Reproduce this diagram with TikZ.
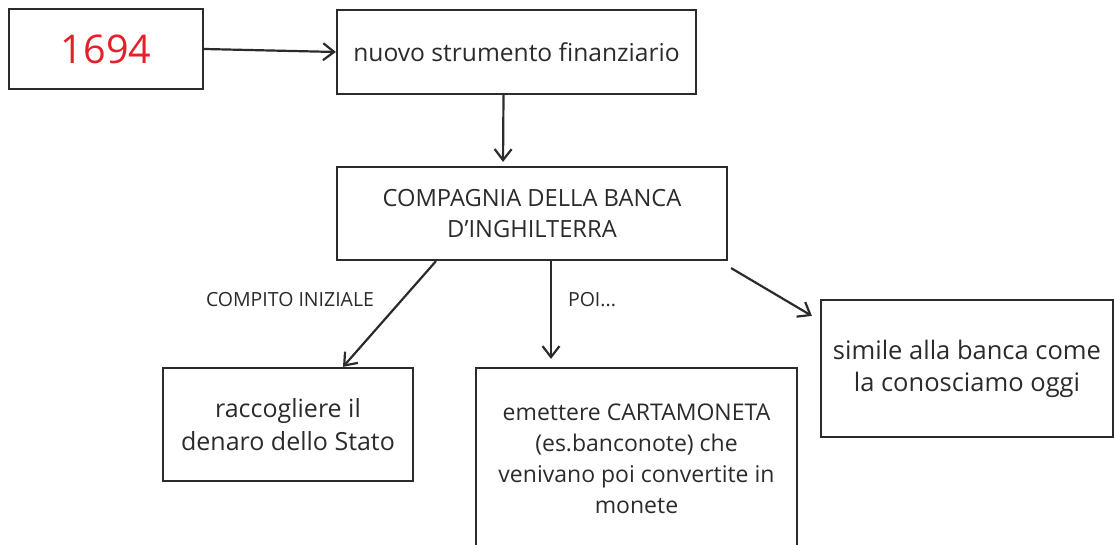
\documentclass[tikz,border=0pt]{standalone}
\usepackage{fontspec}
\setmainfont{Open Sans}[Ligatures=NoCommon]
\usetikzlibrary{arrows.meta}

\definecolor{inkgray}{HTML}{2B2B2B}
\definecolor{yearred}{HTML}{E5202A}

\tikzset{
  box/.style={draw=inkgray, line width=2.2pt, rectangle, align=center,
    text=inkgray, font=\fontsize{22.5}{31.5}\selectfont},
  lbl/.style={text=inkgray, font=\fontsize{19.5}{22}\selectfont},
  link/.style={draw=inkgray, line width=2.2pt, -{Straight Barb[length=11pt,width=17pt]}}
}

\begin{document}
\begin{tikzpicture}[x=1pt,y=1pt]
  \useasboundingbox (0,0) rectangle (1114,545);
  \node[box, minimum width=194pt, minimum height=80pt,
    text=yearred, font=\fontsize{39.5}{40}\selectfont] (year) at (106,496) {1694};
  \node[box, minimum width=359pt, minimum height=84pt,
    font=\fontsize{24.6}{31}\selectfont] (nuovo) at (516.5,493)
    {nuovo strumento finanziario};
  \node[box, minimum width=390pt, minimum height=93pt,
    font=\fontsize{23.7}{31}\selectfont] (comp) at (532,331.5)
    {COMPAGNIA DELLA BANCA\\D’INGHILTERRA};
  \node[box, minimum width=250pt, minimum height=113pt,
    font=\fontsize{25}{33}\selectfont] (racc) at (288,120.5)
    {raccogliere il\\denaro dello Stato};
  \node[box, minimum width=321pt, minimum height=182pt,
    font=\fontsize{23}{31}\selectfont] (emet) at (636.5,86)
    {emettere CARTAMONETA\\(es.banconote) che\\venivano poi convertite in\\monete};
  \node[box, minimum width=292pt, minimum height=137pt,
    font=\fontsize{25.5}{32}\selectfont] (simile) at (967,176.5)
    {simile alla banca come\\la conosciamo oggi};
  \node[lbl] (compito) at (290,245) {COMPITO INIZIALE};
  \node[lbl] (poi) at (592,245) {POI...};
  \begin{scope}[link]
    \draw (year.east) to (nuovo.west);
    \draw[shorten >=4pt] ([xshift=-13pt]nuovo.south) to ([xshift=-29pt]comp.north);
    \draw ([xshift=-96pt]comp.south) to ([xshift=55pt]racc.north);
    \draw[shorten >=8pt] ([xshift=19pt]comp.south) to ([xshift=-85.5pt]emet.north);
    \draw ([shift={(3pt,-7pt)}]comp.south east) to ([shift={(-8pt,-17pt)}]simile.north west);
  \end{scope}
\end{tikzpicture}
\end{document}
